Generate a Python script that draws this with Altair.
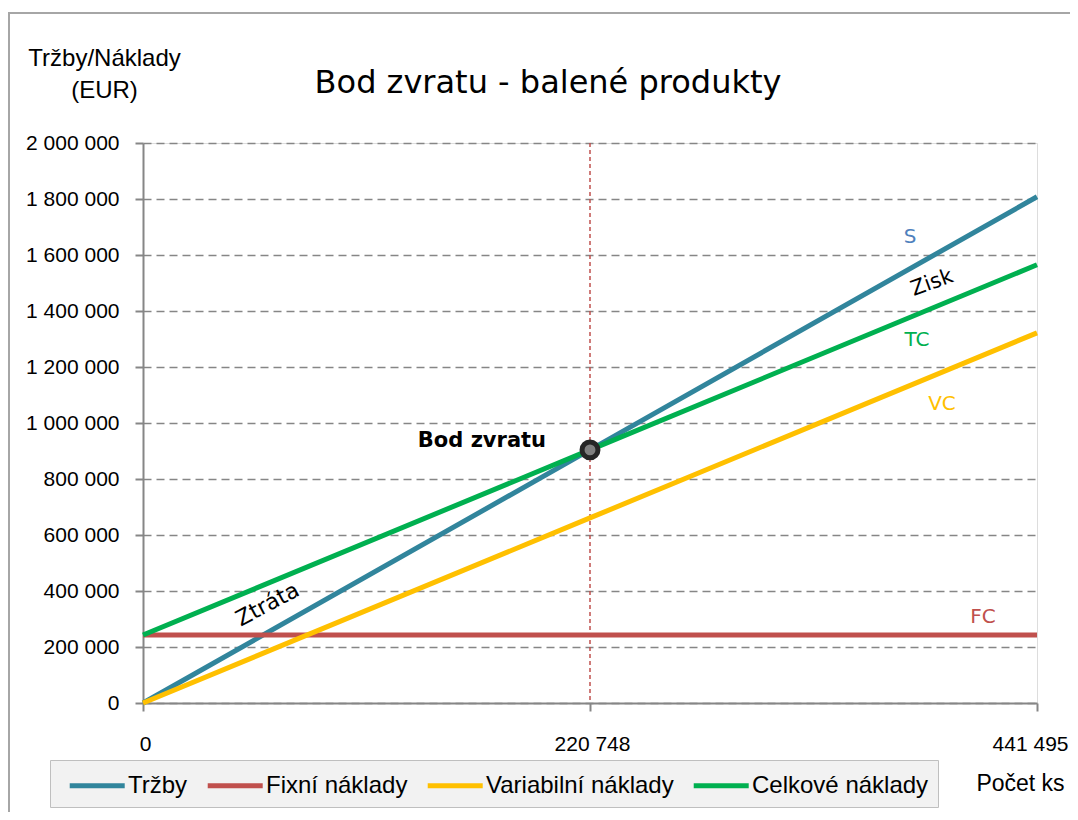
import altair as alt
import pandas as pd

# ---- data ----
x_pts = [0, 220748, 441495]
series_names = ["Tržby", "Fixní náklady", "Variabilní náklady", "Celkové náklady"]
trzby = [0, 904000, 1808000]
fixni = [243000, 243000, 243000]
variabilni = [0, 661000, 1322000]
celkove = [243000, 904000, 1565000]
series_colors = ["#31859c", "#c0504d", "#ffc000", "#00b050"]

be_x = [220748]
be_y = [904000]

ann_labels = ["S", "Zisk", "TC", "VC", "FC", "Ztráta"]
ann_x = [378770, 389635, 382227, 394574, 414827, 61500]
ann_y = [1664000, 1500000, 1296000, 1068000, 307000, 352000]
ann_colors = ["#4f81bd", "#000000", "#00b050", "#ffc000", "#c0504d", "#000000"]
ann_sizes = [20, 21, 20, 20, 20, 22]
ann_angles = [0, 340, 0, 0, 0, 332]

be_label = ["Bod zvratu"]
be_label_x = [167400]
be_label_y = [936000]

y_ticks = [0, 200000, 400000, 600000, 800000, 1000000, 1200000, 1400000, 1600000, 1800000, 2000000]
x_ticks = [0, 220748, 441495]

# ---- tables ----
rows = []
for name, vals in zip(series_names, [trzby, fixni, variabilni, celkove]):
    for i, (xv, yv) in enumerate(zip(x_pts, vals)):
        rows.append({"series": name, "x": xv, "y": yv, "ord": i})
df = pd.DataFrame(rows)
df_be = pd.DataFrame({"x": be_x, "y": be_y})
df_ann = pd.DataFrame({"label": ann_labels, "x": ann_x, "y": ann_y,
                       "color": ann_colors, "angle": ann_angles, "size": ann_sizes})
df_bel = pd.DataFrame({"label": be_label, "x": be_label_x, "y": be_label_y})

GRAY = "#868686"
lab_expr = "replace(format(datum.value, ','), regexp(',', 'g'), ' ')"

xscale = alt.Scale(domain=[0, 441495], nice=False, zero=False)
yscale = alt.Scale(domain=[0, 2000000], nice=False)

x_enc = alt.X("x:Q", scale=xscale,
              axis=alt.Axis(values=x_ticks, labelExpr=lab_expr, grid=False,
                            tickSize=8, tickWidth=2, tickColor=GRAY,
                            domainColor=GRAY, domainWidth=2,
                            labelPadding=22, labelFontSize=21,
                            labelFont="Liberation Sans", labelColor="black",
                            labelFlush=False,
                            labelAlign={"condition": {"test": "datum.value == 441495", "value": "right"},
                                        "value": "center"},
                            labelOffset={"condition": {"test": "datum.value == 441495", "value": 31},
                                         "value": 2},
                            title="Počet ks", titleFont="Liberation Sans",
                            titleFontSize=23, titleFontWeight="normal",
                            titleX=877, titleY=80, titleAlign="center",
                            titleBaseline="middle", titleColor="black"))
y_enc = alt.Y("y:Q", scale=yscale,
              axis=alt.Axis(values=y_ticks, labelExpr=lab_expr, grid=True,
                            gridDash=[8, 5], gridColor=GRAY, gridWidth=1.5,
                            tickSize=8, tickWidth=2, tickColor=GRAY,
                            domainColor=GRAY, domainWidth=2,
                            labelPadding=16, labelFontSize=21,
                            labelFont="Liberation Sans", labelColor="black",
                            title=["Tržby/Náklady", "(EUR)"],
                            titleFont="Liberation Sans", titleFontSize=24,
                            titleFontWeight="normal", titleAngle=0,
                            titleAlign="center", titleX=-39, titleY=-78,
                            titleBaseline="alphabetic", titleLineHeight=32,
                            titleColor="black"))

base = alt.Chart(df)

frame = alt.Chart(df_be).mark_rect(fillOpacity=0, stroke="#a6a6a6", strokeWidth=2).encode(
    x=alt.value(-134), x2=alt.value(1000), y=alt.value(-130), y2=alt.value(800))

title_txt = alt.Chart(df_be).mark_text(
    text="Bod zvratu - balené produkty", font="DejaVu Sans", fontSize=32,
    align="center", baseline="alphabetic", color="black").encode(
    x=alt.value(405), y=alt.value(-50))

vrule = alt.Chart(df_be).mark_rule(color="#c0504d", strokeDash=[4, 3], strokeWidth=1.5).encode(
    x=alt.X("x:Q", scale=xscale))

lines = base.mark_line(strokeWidth=5, strokeCap="butt").encode(
    x=x_enc, y=y_enc,
    color=alt.Color("series:N", sort=series_names,
                    scale=alt.Scale(domain=series_names, range=series_colors),
                    legend=alt.Legend(orient="none", legendX=-93, legendY=617,
                                      direction="horizontal", columns=4, title=None,
                                      symbolType="M-0.42,0H3.58", symbolStrokeWidth=5,
                                      symbolSize=756, labelFontSize=24,
                                      labelFont="Liberation Sans", labelColor="black",
                                      labelLimit=0, labelOffset=36, columnPadding=9,
                                      fillColor="#f2f2f2", strokeColor="#bfbfbf",
                                      padding=9)),
    order=alt.Order("ord:Q"))

pt = alt.Chart(df_be).mark_point(filled=True, fill="#808080", stroke="#262626",
                                 strokeWidth=5, size=254, opacity=1, strokeOpacity=1,
                                 fillOpacity=1, shape="circle").encode(
    x=alt.X("x:Q", scale=xscale), y=alt.Y("y:Q", scale=yscale))

ann = alt.Chart(df_ann).mark_text(font="DejaVu Sans", align="center",
                                  baseline="middle").encode(
    x=alt.X("x:Q", scale=xscale), y=alt.Y("y:Q", scale=yscale),
    text="label:N", color=alt.Color("color:N", scale=None),
    size=alt.Size("size:Q", scale=None),
    angle=alt.Angle("angle:Q", scale=None))

bel = alt.Chart(df_bel).mark_text(font="DejaVu Sans", fontSize=21, fontWeight="bold",
                                  align="center", baseline="middle", color="black").encode(
    x=alt.X("x:Q", scale=xscale), y=alt.Y("y:Q", scale=yscale), text="label:N")

chart = alt.layer(frame, title_txt, vrule, lines, pt, ann, bel).properties(
    width=894, height=560,
    autosize=alt.AutoSizeParams(type="none"),
    padding={"left": 135, "top": 135, "right": 33, "bottom": 109},
).configure_view(stroke=GRAY, strokeWidth=2).configure(background="white")

chart.save("out.html", embed_options={"renderer": "svg", "actions": False})
